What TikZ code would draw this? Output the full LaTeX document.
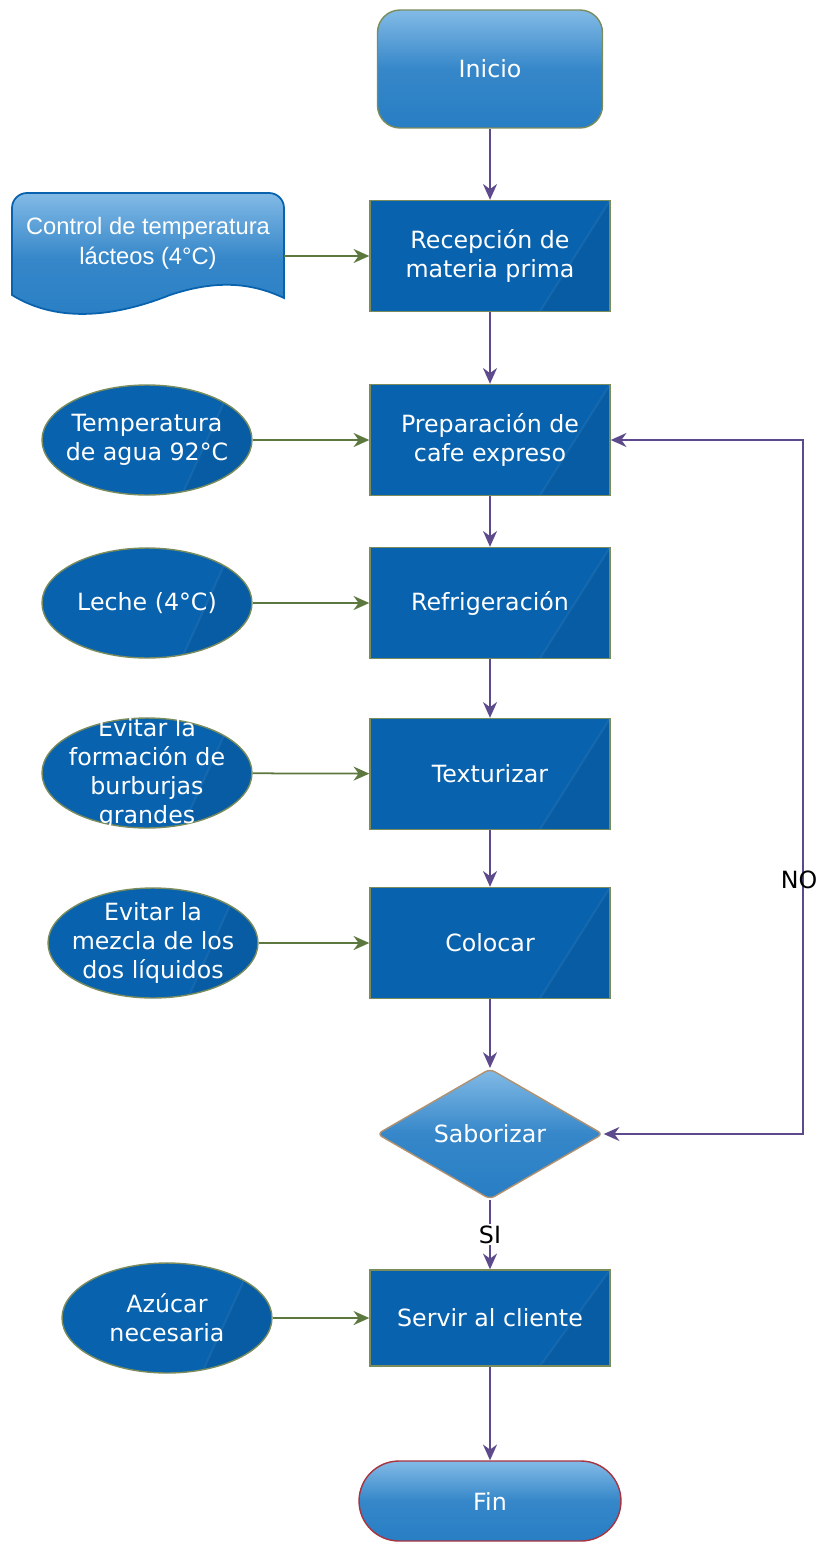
\documentclass[tikz,border=0pt]{standalone}
\usepackage{fontspec}
\setmainfont{DejaVu Sans}
\newfontfamily\arialfont{Liberation Sans}
\usetikzlibrary{shapes.geometric,arrows.meta}

\definecolor{azul}{RGB}{8,98,174}
\definecolor{azulclaro}{RGB}{130,186,230}
\definecolor{azulmedio}{RGB}{40,126,196}
\definecolor{borde}{RGB}{122,140,92}
\definecolor{bordecafe}{RGB}{176,146,112}
\definecolor{morado}{RGB}{92,74,140}
\definecolor{verde}{RGB}{92,120,62}
\definecolor{rojo}{RGB}{168,52,64}

\newcommand{\textonodo}{\fontsize{13.5}{16.5}\selectfont}

\tikzset{
  raya/.style={path picture={
    \fill[black, opacity=0.06] ([xshift=-#1]path picture bounding box.north east)
      -- (path picture bounding box.north east) -- (path picture bounding box.south east)
      -- ([xshift=-1.4cm]path picture bounding box.south east) -- cycle;
    \draw[white, opacity=0.06, line width=1.2pt] ([xshift=-#1]path picture bounding box.north east)
      -- ([xshift=-1.4cm]path picture bounding box.south east);}},
  caja/.style={rectangle, draw=borde, line width=0.8pt, fill=azul, text=white, raya=0cm,
    minimum width=4.8cm, minimum height=2.22cm, align=center, font=\textonodo},
  elipse/.style={ellipse, draw=borde, line width=0.8pt, fill=azul, text=white, raya=0.4cm,
    minimum width=4.2cm, minimum height=2.2cm, inner sep=-6pt, align=center, font=\textonodo},
  brillo/.style={top color=azulclaro, bottom color=azulmedio, middle color=azulmedio!85!azulclaro},
  flecha/.style={->, draw=morado, line width=1pt},
  entrada/.style={->, draw=verde, line width=1pt},
  etiqueta/.style={inner sep=1pt, font=\textonodo},
}

\begin{document}
\begin{tikzpicture}[x=0.02cm, y=-0.02cm, >={Stealth[length=9pt,width=8pt]}]
  \useasboundingbox (0,0) rectangle (819,1544);

  %Inicio y fin
  \node[brillo, draw=borde, line width=0.8pt, rounded corners=0.45cm, minimum width=4.5cm,
    minimum height=2.36cm, text=white, font=\textonodo] (inicio) at (490,69) {Inicio};
  \node[brillo, draw=rojo, line width=0.8pt, rounded corners=0.8cm, minimum width=5.24cm,
    minimum height=1.6cm, text=white, font=\textonodo] (fin) at (490,1501) {Fin};

  %Columna principal
  \node[caja] (recep) at (490,256) {Recepción de\\materia prima};
  \node[caja] (prep) at (490,440) {Preparación de\\cafe expreso};
  \node[caja] (refri) at (490,603) {Refrigeración};
  \node[caja] (textu) at (490,774) {Texturizar};
  \node[caja] (coloc) at (490,943) {Colocar};
  \node[diamond, brillo, draw=bordecafe, line width=0.8pt, rounded corners=3pt, inner sep=0pt,
    minimum width=4.52cm, minimum height=2.36cm, text=white, font=\textonodo] (sabor) at (490,1134) {Saborizar};
  \node[caja, minimum height=1.92cm] (servir) at (490,1318) {Servir al cliente};

  %Documento de control (lado izquierdo)
  \path[brillo, draw=azul, line width=1pt] (12,295) [rounded corners=0.3cm] -- (12,193) -- (284,193)
    [sharp corners] -- (284,298) .. controls (250,282) and (215,280) .. (170,295)
    .. controls (120,315) and (60,325) .. (12,295) -- cycle;
  \node[minimum width=5.44cm, align=center, text=white,
    font=\arialfont\fontsize{13.5}{17}\selectfont] (control) at (148,243) {Control de temperatura\\lácteos (4°C)};

  %Elipses de control
  \node[elipse] (temp) at (147,440) {Temperatura\\de agua 92°C};
  \node[elipse] (leche) at (147,603) {Leche (4°C)};
  \node[elipse, inner sep=-11pt] (burbu) at (147,773) {Evitar la\\formación de\\burburjas\\grandes};
  \node[elipse] (mezcla) at (153,943) {Evitar la\\mezcla de los\\dos líquidos};
  \node[elipse] (azucar) at (167,1318) {Azúcar\\necesaria};

  %Flechas verticales
  \draw[flecha] (inicio) -- (recep);
  \draw[flecha] (recep) -- (prep);
  \draw[flecha] (prep) -- (refri);
  \draw[flecha] (refri) -- (textu);
  \draw[flecha] (textu) -- (coloc);
  \draw[flecha] (coloc) -- (sabor);
  \draw[flecha] (sabor) -- node[etiqueta, fill=white] (si) {SI} (servir);
  \draw[flecha] (servir) -- (fin);

  %Retorno NO
  \coordinate (giro) at (803,440);
  \draw[flecha, <->] (prep.east) -- (giro) |- (sabor.east);
  \node[etiqueta] (no) at (799,880) {NO};

  %Flechas de entrada
  \draw[entrada] (control.east |- recep.west) -- (recep.west);
  \draw[entrada] (temp) -- (prep);
  \draw[entrada] (leche) -- (refri);
  \draw[entrada] (burbu) -- (textu);
  \draw[entrada] (mezcla) -- (coloc);
  \draw[entrada] (azucar) -- (servir);

\end{tikzpicture}
\end{document}
